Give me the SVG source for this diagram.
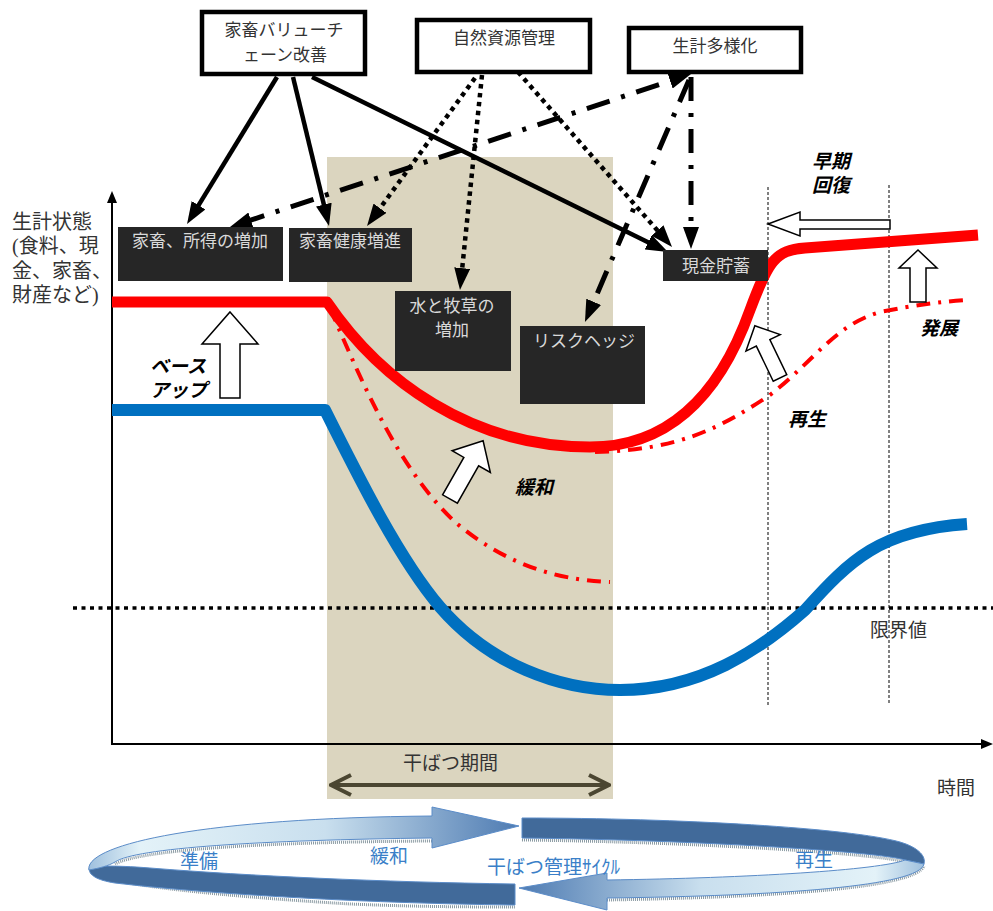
<svg xmlns="http://www.w3.org/2000/svg" width="993" height="911" viewBox="0 0 993 911">
<defs>
  <style>
    .jp { font-family: "Liberation Serif", "Noto Sans CJK JP", serif; }
    .top { fill: #fff; stroke: #000; stroke-width: 4.5; }
    .toptxt { font-size: 17px; fill: #333; text-anchor: middle; }
    .dark { fill: #262626; }
    .darktxt { font-size: 17px; fill: #d9d9d9; text-anchor: middle; }
    .solid { fill: none; stroke: #000; stroke-width: 4.5; }
    .dotted { fill: none; stroke: #000; stroke-width: 4.5; stroke-dasharray: 4.5 4.5; }
    .dashdot { fill: none; stroke: #000; stroke-width: 5; stroke-dasharray: 24 12 4 12; }
    .hollow { fill: #fff; stroke: #000; stroke-width: 1.5; stroke-linejoin: miter; }
    .phase { font-size: 19px; font-style: italic; font-weight: bold; fill: #000; }
    .axistxt { font-size: 19px; fill: #333; }
    .ringtxt { font-size: 19px; fill: #3a7fc8; }
    .ring { stroke: #5b8cc8; stroke-width: 1; }
    .hatch { fill: none; stroke: #8a9aa2; stroke-width: 3; stroke-dasharray: 1 1; }
  </style>
  <marker id="ah" viewBox="0 0 22 16" refX="10" refY="8" markerWidth="22" markerHeight="16" markerUnits="userSpaceOnUse" orient="auto-start-reverse">
    <path d="M0,0 L22,8 L0,16 Z" fill="#000"/>
  </marker>
  <marker id="axh" viewBox="0 0 12 10" refX="4" refY="5" markerWidth="12" markerHeight="10" markerUnits="userSpaceOnUse" orient="auto">
    <path d="M0,0 L12,5 L0,10 Z" fill="#000"/>
  </marker>
  <marker id="olive" viewBox="0 0 24 24" refX="22" refY="12" markerWidth="24" markerHeight="24" markerUnits="userSpaceOnUse" orient="auto-start-reverse">
    <path d="M2,2 L22,12 L2,22" fill="none" stroke="#4b4631" stroke-width="4"/>
  </marker>
  <linearGradient id="gUpper" x1="0" y1="0" x2="1" y2="0">
    <stop offset="0" stop-color="#9fc0de"/>
    <stop offset="0.12" stop-color="#e3f2f8"/>
    <stop offset="0.55" stop-color="#c9dfee"/>
    <stop offset="1" stop-color="#4e7bb2"/>
  </linearGradient>
  <linearGradient id="gLower" x1="1" y1="0" x2="0" y2="0">
    <stop offset="0" stop-color="#9fc0de"/>
    <stop offset="0.12" stop-color="#e3f2f8"/>
    <stop offset="0.55" stop-color="#c9dfee"/>
    <stop offset="1" stop-color="#4e7bb2"/>
  </linearGradient>
</defs>

<rect width="993" height="911" fill="#fff"/>

<!-- drought period band -->
<rect id="drought-band" x="327" y="157" width="286" height="642" fill="#dbd5bf"/>

<!-- axes -->
<g id="axes" stroke="#000" stroke-width="2" fill="none">
  <line x1="112" y1="745" x2="112" y2="199" marker-end="url(#axh)"/>
  <line x1="112" y1="744" x2="985" y2="744" marker-end="url(#axh)"/>
</g>

<!-- threshold and phase boundaries -->
<line x1="73" y1="608" x2="993" y2="608" stroke="#000" stroke-width="3.5" stroke-dasharray="4 4.5"/>
<g stroke="#000" stroke-width="1" stroke-dasharray="3 2">
  <line x1="768" y1="187" x2="768" y2="705"/>
  <line x1="889" y1="185" x2="889" y2="703"/>
</g>

<!-- livelihood curves -->
<g id="curves" fill="none" stroke-linejoin="round">
  <path d="M112,410 L325,410 C360,480 400,560 440,607 C490,665 560,690 620,690 C700,690 760,650 805,610 C850,560 880,530 967,524" stroke="#0070c0" stroke-width="12"/>
  <path d="M330,308 C365,390 400,470 455,522 C500,560 550,580 610,582" stroke="#ff0000" stroke-width="4" stroke-dasharray="14 8 3 8"/>
  <path d="M595,452 C680,450 720,428 770,395 C815,360 835,325 880,312 C915,305 940,302 965,300" stroke="#ff0000" stroke-width="4" stroke-dasharray="14 8 3 8"/>
  <path d="M112,302 L327,302 C380,380 470,447 590,447 C680,447 725,380 750,310 C768,262 775,250 805,248 L978,235" stroke="#ff0000" stroke-width="11"/>
</g>

<!-- hollow arrows -->
<g id="hollow-arrows">
  <polygon class="hollow" points="230,312 258,344 240,344 240,398 220,398 220,344 202,344"/>
  <polygon class="hollow" points="918,250 937,268 926,268 926,302 910,302 910,268 899,268"/>
  <polygon class="hollow" points="768,224 800,212 800,220 890,220 890,229 800,229 800,236"/>
  <polygon class="hollow" transform="translate(450,499) rotate(29.6)" points="0,-67 22,-43 8.5,-43 8.5,0 -8.5,0 -8.5,-43 -22,-43"/>
  <polygon class="hollow" transform="translate(780,378) rotate(-25.7)" points="0,-58 19,-39 7.5,-39 7.5,0 -7.5,0 -7.5,-39 -19,-39"/>
</g>

<!-- phase labels -->
<g class="jp phase">
  <text x="150" y="373">ベース</text>
  <text x="150" y="397">アップ</text>
  <text x="515" y="494">緩和</text>
  <text x="788" y="426">再生</text>
  <text x="920" y="335">発展</text>
  <text x="812" y="168">早期</text>
  <text x="812" y="192">回復</text>
</g>

<!-- axis labels -->
<g class="jp axistxt">
  <text x="12" y="229" font-size="20">生計状態</text>
  <text x="12" y="253" font-size="20">(食料、現</text>
  <text x="12" y="278" font-size="20">金、家畜、</text>
  <text x="12" y="302" font-size="20">財産など)</text>
  <text x="870" y="637">限界値</text>
  <text x="937" y="795">時間</text>
  <text x="403" y="770">干ばつ期間</text>
</g>

<!-- drought period span -->
<line x1="331" y1="785" x2="609" y2="785" stroke="#4b4631" stroke-width="4" marker-start="url(#olive)" marker-end="url(#olive)"/>

<!-- connectors -->
<g id="connectors">
  <line class="solid" x1="277" y1="77" x2="193.3" y2="213.8" marker-end="url(#ah)"/>
  <line class="solid" x1="293" y1="77" x2="326.2" y2="214.3" marker-end="url(#ah)"/>
  <line class="solid" x1="312" y1="77" x2="657.2" y2="246.7" stroke-width="3.5" marker-end="url(#ah)"/>
  <line class="dotted" x1="475" y1="78" x2="374.1" y2="216.3" marker-end="url(#ah)"/>
  <line class="dotted" x1="482" y1="75" x2="461.2" y2="278.1" marker-end="url(#ah)"/>
  <line class="dotted" x1="518" y1="72" x2="664.1" y2="238" marker-end="url(#ah)"/>
  <line class="dashdot" x1="691" y1="77" x2="691" y2="237" marker-end="url(#ah)"/>
  <line class="dashdot" x1="689" y1="80" x2="589.7" y2="311" marker-end="url(#ah)"/>
  <line class="dashdot" x1="241.4" y1="223.2" x2="679.6" y2="77.8" marker-start="url(#ah)" marker-end="url(#ah)"/>
</g>

<!-- intervention nodes -->
<g id="node-value-chain">
  <rect class="top" x="202" y="12" width="163" height="62"/>
  <text class="jp toptxt" x="284" y="36">家畜バリューチ</text>
  <text class="jp toptxt" x="285" y="61">ェーン改善</text>
</g>
<g id="node-natural-resources">
  <rect class="top" x="417" y="20" width="173" height="52"/>
  <text class="jp toptxt" x="504" y="44">自然資源管理</text>
</g>
<g id="node-diversification">
  <rect class="top" x="629" y="28" width="172" height="44"/>
  <text class="jp toptxt" x="715" y="52">生計多様化</text>
</g>

<!-- outcome nodes -->
<g id="node-livestock-income">
  <rect class="dark" x="118" y="227" width="165" height="54"/>
  <text class="jp darktxt" x="200" y="247">家畜、所得の増加</text>
</g>
<g id="node-animal-health">
  <rect class="dark" x="289" y="228" width="123" height="54"/>
  <text class="jp darktxt" x="350" y="247">家畜健康増進</text>
</g>
<g id="node-water-pasture">
  <rect class="dark" x="395" y="291" width="116" height="80"/>
  <text class="jp darktxt" x="452" y="312">水と牧草の</text>
  <text class="jp darktxt" x="452" y="336">増加</text>
</g>
<g id="node-risk-hedge">
  <rect class="dark" x="520" y="326" width="125" height="78"/>
  <text class="jp darktxt" x="584" y="347">リスクヘッジ</text>
</g>
<g id="node-cash-savings">
  <rect class="dark" x="663" y="250" width="105" height="31"/>
  <text class="jp darktxt" x="716" y="272">現金貯蓄</text>
</g>

<!-- drought management cycle -->
<g id="cycle">
  <path class="hatch" d="M522,840 C700,842 880,854 905,862"/>
  <path class="hatch" d="M91,872 C95,882 200,895 350,904 C420,907 480,907 515,907"/>
  <path class="hatch" d="M432,841 C260,842 140,850 115,864"/>
  <path class="hatch" d="M607,900 C780,897 915,888 924,866"/>
  <path class="ring" fill="#416a9a" d="M515,884 C380,882 250,876 150,868 C112,865 94,866 89,868 C89,875 96,880 115,883 C200,893 350,903 515,905 Z"/>
  <path class="ring" fill="url(#gUpper)" d="M89,870 C84,845 200,818 432,816 L432,807 L519,826 L432,848 L432,838 C260,840 135,848 115,862 C108,866 100,868 89,870 Z"/>
  <path class="ring" fill="#416a9a" d="M522,818 C680,818 850,828 900,842 C920,848 926,857 924,864 L905,860 C880,852 700,840 522,838 Z"/>
  <path class="ring" fill="url(#gLower)" d="M924,864 C920,886 780,896 607,898 L607,910 L519,888 L607,873 L607,880 C750,878 880,870 905,860 Z"/>
  <g class="jp ringtxt">
    <text x="180" y="868">準備</text>
    <text x="370" y="863">緩和</text>
    <text x="487" y="874">干ばつ管理ｻｲｸﾙ</text>
    <text x="795" y="867">再生</text>
  </g>
</g>
</svg>
